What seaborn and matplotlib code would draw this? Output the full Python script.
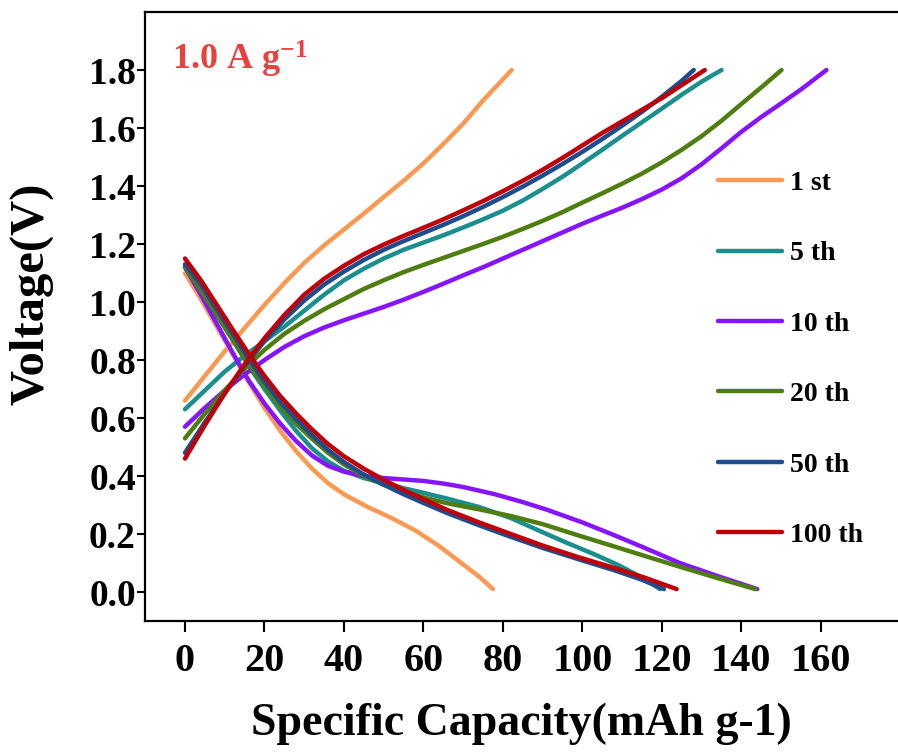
import numpy as np
import pandas as pd
import matplotlib
matplotlib.use("Agg")
import matplotlib.pyplot as plt
import seaborn as sns

# ---------------- data ----------------
cycles = ["1 st", "5 th", "10 th", "20 th", "50 th", "100 th"]
colors = ["#FA9A52", "#1B8E8E", "#8714FF", "#4E7E10", "#1E4C8E", "#C00008"]

# charge branches (capacity mAh/g, voltage V)
c1_charge_x = [0, 5, 10, 15, 20, 25, 30, 35, 40, 45, 50, 55, 60, 65, 70, 75, 82.2]
c1_charge_v = [0.66, 0.745, 0.83, 0.91, 0.99, 1.065, 1.135, 1.195, 1.25, 1.305, 1.362, 1.418, 1.478, 1.545, 1.615, 1.695, 1.80]
c5_charge_x = [0, 5, 10, 15, 20, 25, 30, 35, 40, 45, 50, 55, 60, 65, 70, 75, 80, 85, 90, 95, 100, 105, 110, 115, 120, 125, 130, 135]
c5_charge_v = [0.63, 0.695, 0.76, 0.815, 0.865, 0.915, 0.97, 1.025, 1.075, 1.115, 1.15, 1.18, 1.205, 1.23, 1.257, 1.285, 1.315, 1.35, 1.39, 1.432, 1.478, 1.525, 1.573, 1.62, 1.667, 1.715, 1.76, 1.80]
c10_charge_x = [0, 5, 10, 15, 20, 25, 30, 35, 40, 45, 50, 55, 60, 65, 70, 75, 80, 85, 90, 95, 100, 105, 110, 115, 120, 125, 130, 135, 140, 145, 150, 155, 161.4]
c10_charge_v = [0.57, 0.635, 0.695, 0.75, 0.80, 0.845, 0.882, 0.912, 0.937, 0.96, 0.983, 1.008, 1.035, 1.063, 1.092, 1.12, 1.15, 1.18, 1.21, 1.24, 1.27, 1.298, 1.325, 1.355, 1.388, 1.427, 1.475, 1.53, 1.587, 1.638, 1.685, 1.733, 1.80]
c20_charge_x = [0, 5, 10, 15, 20, 25, 30, 35, 40, 45, 50, 55, 60, 65, 70, 75, 80, 85, 90, 95, 100, 105, 110, 115, 120, 125, 130, 135, 140, 145, 150.1]
c20_charge_v = [0.53, 0.615, 0.695, 0.77, 0.835, 0.89, 0.935, 0.975, 1.01, 1.045, 1.075, 1.103, 1.128, 1.152, 1.176, 1.20, 1.225, 1.252, 1.28, 1.31, 1.343, 1.375, 1.408, 1.443, 1.482, 1.525, 1.572, 1.625, 1.683, 1.74, 1.80]
c50_charge_x = [0, 5, 10, 15, 20, 25, 30, 35, 40, 45, 50, 55, 60, 65, 70, 75, 80, 85, 90, 95, 100, 105, 110, 115, 120, 125, 128]
c50_charge_v = [0.48, 0.585, 0.685, 0.78, 0.865, 0.94, 1.005, 1.06, 1.105, 1.145, 1.18, 1.21, 1.238, 1.266, 1.296, 1.328, 1.362, 1.398, 1.436, 1.476, 1.518, 1.562, 1.608, 1.656, 1.708, 1.763, 1.80]
c100_charge_x = [0, 5, 10, 15, 20, 25, 30, 35, 40, 45, 50, 55, 60, 65, 70, 75, 80, 85, 90, 95, 100, 105, 110, 115, 120, 125, 130.8]
c100_charge_v = [0.46, 0.575, 0.685, 0.785, 0.875, 0.955, 1.025, 1.08, 1.125, 1.165, 1.198, 1.228, 1.256, 1.285, 1.316, 1.348, 1.382, 1.418, 1.456, 1.497, 1.54, 1.583, 1.623, 1.663, 1.703, 1.748, 1.80]

# discharge branches (capacity mAh/g, voltage V)
c1_dis_x = [0, 4, 8, 12, 16, 20, 24, 28, 32, 36, 40, 46, 52, 58, 64, 70, 74, 77.5]
c1_dis_v = [1.10, 1.01, 0.915, 0.82, 0.725, 0.635, 0.555, 0.485, 0.425, 0.375, 0.337, 0.293, 0.255, 0.212, 0.158, 0.095, 0.053, 0.01]
c5_dis_x = [0, 4, 8, 12, 16, 20, 24, 28, 32, 36, 40, 45, 50, 55, 60, 66, 74, 82, 89, 96, 103, 109, 114, 117, 119.5]
c5_dis_v = [1.12, 1.04, 0.955, 0.87, 0.78, 0.70, 0.625, 0.555, 0.495, 0.45, 0.418, 0.393, 0.375, 0.358, 0.342, 0.322, 0.293, 0.255, 0.212, 0.17, 0.13, 0.093, 0.057, 0.033, 0.01]
c10_dis_x = [0, 4, 8, 12, 16, 20, 24, 28, 32, 36, 40, 45, 50, 55, 60, 65, 70, 78, 85, 91, 100, 108, 116, 124.5, 134, 144]
c10_dis_v = [1.12, 1.025, 0.925, 0.825, 0.73, 0.65, 0.58, 0.52, 0.47, 0.435, 0.415, 0.40, 0.393, 0.388, 0.383, 0.374, 0.362, 0.337, 0.31, 0.284, 0.24, 0.196, 0.15, 0.10, 0.055, 0.01]
c20_dis_x = [0, 4, 8, 12, 16, 20, 24, 28, 32, 36, 40, 45, 50, 55, 60, 66, 74, 82, 90, 99, 108, 116, 125, 134, 143.5]
c20_dis_v = [1.12, 1.04, 0.955, 0.87, 0.785, 0.71, 0.64, 0.58, 0.528, 0.48, 0.44, 0.40, 0.37, 0.347, 0.326, 0.306, 0.285, 0.262, 0.234, 0.195, 0.157, 0.123, 0.085, 0.048, 0.01]
c50_dis_x = [0, 4, 8, 12, 16, 20, 24, 28, 32, 36, 40, 45, 50, 55, 60, 66, 74, 82, 90, 99, 108, 115, 120.5]
c50_dis_v = [1.13, 1.06, 0.975, 0.89, 0.805, 0.725, 0.655, 0.595, 0.54, 0.49, 0.448, 0.405, 0.37, 0.337, 0.307, 0.272, 0.23, 0.19, 0.152, 0.113, 0.075, 0.042, 0.01]
c100_dis_x = [0, 4, 8, 12, 16, 20, 24, 28, 32, 36, 40, 45, 50, 55, 60, 66, 74, 82, 90, 99, 108, 116, 123.7]
c100_dis_v = [1.15, 1.075, 0.99, 0.905, 0.822, 0.745, 0.675, 0.615, 0.56, 0.51, 0.468, 0.425, 0.387, 0.352, 0.32, 0.283, 0.24, 0.20, 0.16, 0.12, 0.083, 0.048, 0.01]

x_ticks = [0, 20, 40, 60, 80, 100, 120, 140, 160]
y_ticks = [0.0, 0.2, 0.4, 0.6, 0.8, 1.0, 1.2, 1.4, 1.6, 1.8]

# ---------------- build table ----------------
branches = [
    ("1 st", c1_charge_x, c1_charge_v, c1_dis_x, c1_dis_v),
    ("5 th", c5_charge_x, c5_charge_v, c5_dis_x, c5_dis_v),
    ("10 th", c10_charge_x, c10_charge_v, c10_dis_x, c10_dis_v),
    ("20 th", c20_charge_x, c20_charge_v, c20_dis_x, c20_dis_v),
    ("50 th", c50_charge_x, c50_charge_v, c50_dis_x, c50_dis_v),
    ("100 th", c100_charge_x, c100_charge_v, c100_dis_x, c100_dis_v),
]
rows = []
for name, cx, cv, dx, dv in branches:
    for i, (a, b) in enumerate(zip(cx, cv)):
        rows.append(dict(cycle=name, unit=name + "_c", order=i, cap=a, volt=b))
    for i, (a, b) in enumerate(zip(dx, dv)):
        rows.append(dict(cycle=name, unit=name + "_d", order=i, cap=a, volt=b))
df = pd.DataFrame(rows)

# ---------------- plot ----------------
sns.set_theme(style="white")
plt.rcParams["font.family"] = ["Liberation Serif", "DejaVu Serif"]
plt.rcParams["font.weight"] = "bold"
plt.rcParams["text.color"] = "black"
plt.rcParams["axes.labelcolor"] = "black"
plt.rcParams["xtick.color"] = "black"
plt.rcParams["ytick.color"] = "black"
plt.rcParams["mathtext.fontset"] = "custom"
plt.rcParams["mathtext.rm"] = "Liberation Serif:bold"
plt.rcParams["mathtext.bf"] = "Liberation Serif:bold"
plt.rcParams["mathtext.it"] = "Liberation Serif:bold"
plt.rcParams["mathtext.default"] = "bf"

fig = plt.figure(figsize=(8.98, 7.55), dpi=100)
ax = fig.add_axes([145 / 898, 1 - 621 / 755, 753 / 898, 609 / 755])

sns.lineplot(data=df, x="cap", y="volt", hue="cycle", hue_order=cycles,
             palette=dict(zip(cycles, colors)), units="unit", estimator=None,
             sort=False, linewidth=3.2, ax=ax, legend=True)
for ln in ax.lines:
    ln.set_solid_capstyle("round")
    ln.set_solid_joinstyle("round")

ax.set_xlim(-10.06, 179.4)
ax.set_ylim(-0.1, 2.0)
ax.set_xticks(x_ticks)
ax.set_yticks(y_ticks)
ax.set_yticklabels([f"{v:.1f}" for v in y_ticks])

for s in ["left", "top", "bottom"]:
    ax.spines[s].set_visible(True)
    ax.spines[s].set_color("black")
    ax.spines[s].set_linewidth(1.6)
ax.spines["right"].set_visible(False)

ax.tick_params(axis="both", direction="out", width=1.5, color="black",
               bottom=True, left=True, labelcolor="black")
ax.tick_params(axis="x", labelsize=29, length=8, pad=8)
ax.tick_params(axis="y", labelsize=27, length=6, pad=0.5)
for lab in ax.get_xticklabels() + ax.get_yticklabels():
    lab.set_fontweight("bold")

ax.set_xlabel("Specific Capacity(mAh g-1)", fontsize=33, fontweight="bold", labelpad=16)
ax.set_ylabel("Voltage(V)", fontsize=35, fontweight="bold")
ax.yaxis.set_label_coords(-0.122, 0.537)

ax.text(0.036, 0.905, r"1.0 A g$^{-1}$", transform=ax.transAxes,
        fontsize=26, fontweight="bold", color="#E8413E", ha="left", va="baseline")

handles, labels = ax.get_legend_handles_labels()
leg = ax.legend(handles, labels, loc="upper left", bbox_to_anchor=(0.761, 0.740),
                frameon=False, fontsize=20, handlelength=2.3, handletextpad=0.3,
                labelspacing=1.62, borderpad=0, borderaxespad=0)
for t in leg.get_texts():
    t.set_fontweight("bold")
    t.set_color("black")
for h in leg.get_lines():
    h.set_linewidth(3.2)
    h.set_solid_capstyle("round")

fig.savefig("out.png", dpi=100)
